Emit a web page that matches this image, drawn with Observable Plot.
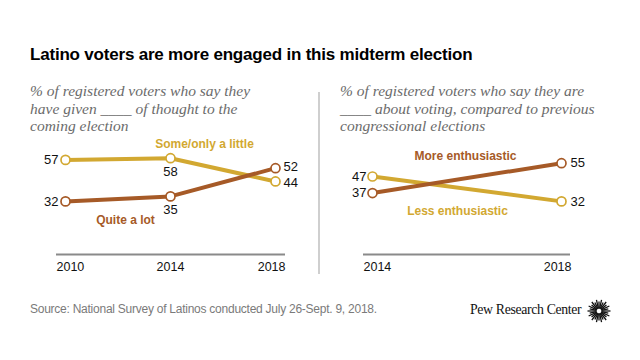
<!DOCTYPE html>
<html>
<head>
<meta charset="utf-8">
<script src="https://cdn.jsdelivr.net/npm/d3@7"></script>
<script src="https://cdn.jsdelivr.net/npm/@observablehq/plot@0.6"></script>
<style>
  html, body { margin: 0; padding: 0; background: #fff; }
  #wrap { position: relative; width: 640px; height: 360px; overflow: hidden; font-family: "Liberation Sans", Arial, sans-serif; }
  .abs { position: absolute; }
  #title { left: 30px; top: 45px; font-family: "Liberation Sans", Arial, sans-serif; font-weight: bold; font-size: 17px; letter-spacing: -0.2px; color: #000; white-space: nowrap; line-height: 20px; }
  .sub { font-family: "Liberation Serif", serif; font-style: italic; font-size: 15.5px; line-height: 17.6px; color: #6b6b6b; top: 82px; white-space: nowrap; }
  #subL { left: 30px; }
  #subR { left: 340px; }
  #divider { left: 318px; top: 92px; width: 2px; height: 182px; background: #cfcfcf; }
  #plotL { left: 0px; top: 135px; }
  #plotR { left: 320px; top: 135px; }
  #source { left: 30px; top: 302px; font-family: "Liberation Sans", Arial, sans-serif; font-size: 12px; letter-spacing: -0.25px; color: #7a7a7a; white-space: nowrap; }
  #pew { left: 470px; top: 302px; font-family: "Liberation Serif", serif; font-size: 13.8px; color: #111; white-space: nowrap; letter-spacing: -0.35px; }
  #logo { left: 587px; top: 299px; }
  .lbl text { letter-spacing: -0.2px; }
</style>
</head>
<body>
<div id="wrap">
  <div id="title" class="abs">Latino voters are more engaged in this midterm election</div>
  <div id="subL" class="abs sub">% of registered voters who say they<br>have given ____ of thought to the<br>coming election</div>
  <div id="subR" class="abs sub">% of registered voters who say they are<br>____ about voting, compared to previous<br>congressional elections</div>
  <div id="divider" class="abs"></div>
  <div id="plotL" class="abs"></div>
  <div id="plotR" class="abs"></div>
  <div id="source" class="abs">Source: National Survey of Latinos conducted July 26-Sept. 9, 2018.</div>
  <div id="pew" class="abs">Pew Research Center</div>
  <svg id="logo" class="abs" width="24" height="24" viewBox="-12 -12 24 24"></svg>
</div>
<script>
// ---- data ----
const yearsLeft = [2010, 2014, 2018];
const someLittle = [57, 58, 44];
const quiteALot = [32, 35, 52];
const seriesLeftNames = ["Some/only a little", "Quite a lot"];

const yearsRight = [2014, 2018];
const lessEnth = [47, 32];
const moreEnth = [37, 55];
const seriesRightNames = ["Less enthusiastic", "More enthusiastic"];

const GOLD = "#d2a831";
const BROWN = "#a65a27";

const rowsL = [
  ...yearsLeft.map((yr, i) => ({year: yr, value: someLittle[i], series: seriesLeftNames[0]})),
  ...yearsLeft.map((yr, i) => ({year: yr, value: quiteALot[i], series: seriesLeftNames[1]}))
];
const rowsR = [
  ...yearsRight.map((yr, i) => ({year: yr, value: lessEnth[i], series: seriesRightNames[0]})),
  ...yearsRight.map((yr, i) => ({year: yr, value: moreEnth[i], series: seriesRightNames[1]}))
];

const colorL = {domain: seriesLeftNames, range: [GOLD, BROWN]};
const colorR = {domain: seriesRightNames, range: [GOLD, BROWN]};

function yearTicks(years) {
  const base = {y: 0, dy: 12, text: d => String(d), fontSize: 12.5, fill: "#111", lineAnchor: "middle"};
  const marks = [
    Plot.text([years[0]], {...base, x: d => d, textAnchor: "start", dx: -9}),
    Plot.text([years[years.length - 1]], {...base, x: d => d, textAnchor: "end", dx: 10})
  ];
  if (years.length > 2) marks.push(Plot.text(years.slice(1, -1), {...base, x: d => d}));
  return marks;
}

const common = {
  height: 145,
  marginTop: 19.4,
  marginBottom: 26,
  y: {domain: [0, 60], axis: null},
  style: {fontFamily: "Liberation Sans, Arial, sans-serif", fontSize: "13px", background: "transparent", overflow: "visible"}
};

const valueStyle = {fontSize: 13, fill: "#111", lineAnchor: "middle"};
const labelStyle = {fontSize: 12, fontWeight: "bold", lineAnchor: "middle"};

// nudge apart the two close 2018 labels on the left panel
const endNudge = d => d.series === seriesLeftNames[1] ? -1 : 1;

const plotL = Plot.plot({
  ...common,
  width: 318,
  marginLeft: 65,
  marginRight: 43,
  x: {domain: [2010, 2018], axis: null},
  color: colorL,
  marks: [
    Plot.ruleY([0], {stroke: "#8a8a8a", strokeWidth: 2, insetLeft: -9, insetRight: -10}),
    ...yearTicks(yearsLeft),
    Plot.line(rowsL, {x: "year", y: "value", z: "series", stroke: "series", strokeWidth: 4}),
    Plot.dot(rowsL, {x: "year", y: "value", stroke: "series", fill: "white", r: 4.5, strokeWidth: 1.7}),
    Plot.text(rowsL.filter(d => d.year === 2010), {...valueStyle, x: "year", y: "value", text: "value", textAnchor: "end", dx: -7}),
    Plot.text(rowsL.filter(d => d.year === 2014), {...valueStyle, x: "year", y: "value", text: "value", dy: 13.5}),
    Plot.text(rowsL.filter(d => d.year === 2018 && d.series === seriesLeftNames[1]), {...valueStyle, x: "year", y: "value", text: "value", textAnchor: "start", dx: 8, dy: -1}),
    Plot.text(rowsL.filter(d => d.year === 2018 && d.series === seriesLeftNames[0]), {...valueStyle, x: "year", y: "value", text: "value", textAnchor: "start", dx: 8, dy: 1}),
    Plot.text(rowsL.filter(d => d.year === 2014 && d.series === seriesLeftNames[0]), {...labelStyle, x: "year", y: "value", text: "series", fill: "series", dx: 34, dy: -14.5}),
    Plot.text(rowsL.filter(d => d.year === 2014 && d.series === seriesLeftNames[1]), {...labelStyle, x: "year", y: "value", text: "series", fill: "series", dx: -45, dy: 23.5})
  ]
});
document.getElementById("plotL").appendChild(plotL);

const plotR = Plot.plot({
  ...common,
  width: 320,
  marginLeft: 52,
  marginRight: 79,
  x: {domain: [2014, 2018], axis: null},
  color: colorR,
  marks: [
    Plot.ruleY([0], {stroke: "#8a8a8a", strokeWidth: 2, insetLeft: -9, insetRight: -9}),
    ...yearTicks(yearsRight),
    Plot.line(rowsR, {x: "year", y: "value", z: "series", stroke: "series", strokeWidth: 4}),
    Plot.dot(rowsR, {x: "year", y: "value", stroke: "series", fill: "white", r: 4.5, strokeWidth: 1.7}),
    Plot.text(rowsR.filter(d => d.year === 2014), {...valueStyle, x: "year", y: "value", text: "value", textAnchor: "end", dx: -6}),
    Plot.text(rowsR.filter(d => d.year === 2018), {...valueStyle, x: "year", y: "value", text: "value", textAnchor: "start", dx: 9}),
    Plot.text(rowsR.filter(d => d.year === 2018 && d.series === seriesRightNames[1]), {...labelStyle, x: "year", y: "value", text: "series", fill: "series", dx: -96, dy: -7.5}),
    Plot.text(rowsR.filter(d => d.year === 2018 && d.series === seriesRightNames[0]), {...labelStyle, x: "year", y: "value", text: "series", fill: "series", dx: -104, dy: 9.5})
  ]
});
document.getElementById("plotR").appendChild(plotR);

// Pew logo sunburst (decoration)
const logo = d3.select("#logo");
const n = 28;
for (let i = 0; i < n; i++) {
  const a = (i / n) * 2 * Math.PI;
  const r0 = 2.5, r1 = (i % 2 ? 9.5 : 11.5);
  logo.append("line")
    .attr("x1", r0 * Math.cos(a)).attr("y1", r0 * Math.sin(a))
    .attr("x2", r1 * Math.cos(a)).attr("y2", r1 * Math.sin(a))
    .attr("stroke", "#111").attr("stroke-width", 1.3);
}
</script>
</body>
</html>
